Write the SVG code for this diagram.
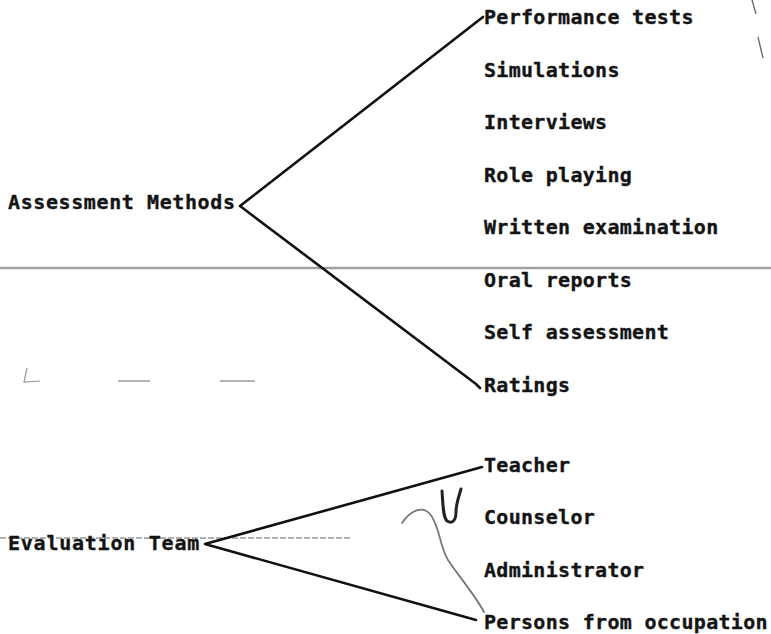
<svg xmlns="http://www.w3.org/2000/svg" width="771" height="634" viewBox="0 0 771 634">
<style>
.t{font-family:"DejaVu Sans Mono","Liberation Mono",monospace;font-weight:bold;font-size:20px;fill:#141414;stroke:#141414;stroke-width:0.35;letter-spacing:0.3px}
.l1{letter-spacing:0.6px}
.l2{letter-spacing:0.76px}
.c{fill:none;stroke:#111;stroke-width:2.6;stroke-linecap:round;stroke-linejoin:round}
.scan{fill:none;stroke:#a0a0a0;stroke-width:2.4}
.hand{fill:none;stroke-linecap:round;stroke-linejoin:round}
</style>
<rect width="771" height="634" fill="#fff"/>
<g id="artifacts">
<line class="scan" x1="0" y1="268" x2="771" y2="268"/>
<line x1="0" y1="538" x2="350" y2="538" stroke="#999" stroke-width="1.5" stroke-dasharray="6 2"/>
<path d="M752 0 L756 14 M758 37 L763 58" stroke="#666" stroke-width="1.3" fill="none"/>
<path d="M27 368 L24 382 L40 381" stroke="#999" stroke-width="1.2" fill="none"/>
<line x1="118" y1="381" x2="150" y2="381" stroke="#999" stroke-width="1.5"/>
<line x1="220" y1="381" x2="255" y2="381" stroke="#999" stroke-width="1.5"/>
<path class="hand" d="M442 491 C443 505 443 517 447 521 C452 524 456 521 456 512 C456 504 459 496 461 489" stroke="#222" stroke-width="3"/>
<path class="hand" d="M402 523 C410 511 422 505 430 514 C440 526 439 545 448 560 C460 578 475 595 484 612" stroke="#777" stroke-width="1.8"/>
</g>
<g id="connectors">
<path class="c" d="M483 17 L240 206 L476 384 L480 388"/>
<path class="c" d="M482 467 L205 544 L476 620"/>
</g>
<g id="assessment-methods"><text class="t l1" x="8" y="209">Assessment Methods</text></g>
<g id="performance-tests"><text class="t" x="484" y="24">Performance tests</text></g>
<g id="simulations"><text class="t" x="484" y="77">Simulations</text></g>
<g id="interviews"><text class="t" x="484" y="129">Interviews</text></g>
<g id="role-playing"><text class="t" x="484" y="182">Role playing</text></g>
<g id="written-examination"><text class="t" x="484" y="234">Written examination</text></g>
<g id="oral-reports"><text class="t" x="484" y="287">Oral reports</text></g>
<g id="self-assessment"><text class="t" x="484" y="339">Self assessment</text></g>
<g id="ratings"><text class="t" x="484" y="392">Ratings</text></g>
<g id="evaluation-team"><text class="t l2" x="8" y="550">Evaluation Team</text></g>
<g id="teacher"><text class="t" x="484" y="472">Teacher</text></g>
<g id="counselor"><text class="t" x="484" y="524">Counselor</text></g>
<g id="administrator"><text class="t" x="484" y="577">Administrator</text></g>
<g id="persons-from-occupation"><text class="t" x="484" y="629">Persons from occupation</text></g>
</svg>
